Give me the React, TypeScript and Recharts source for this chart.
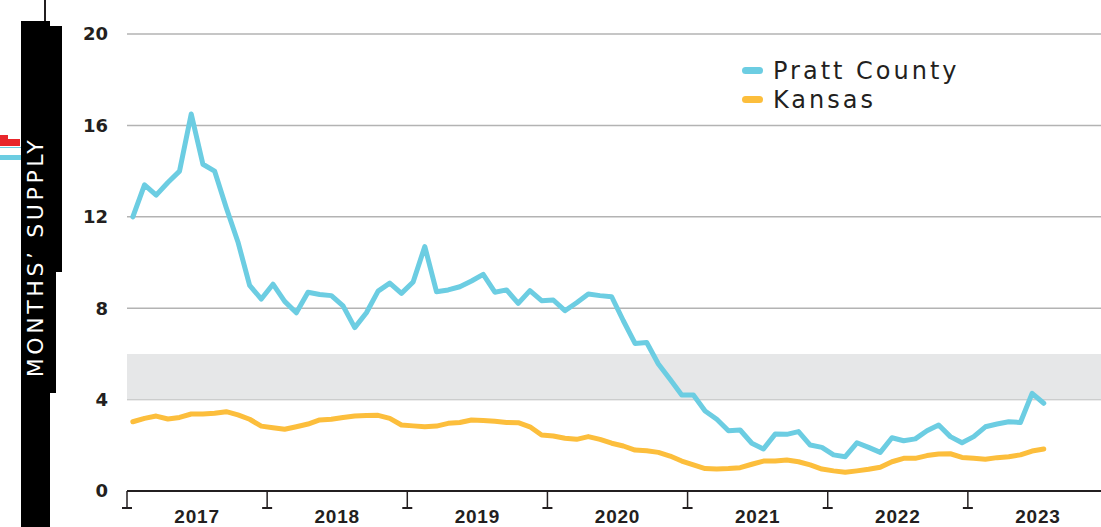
import { LineChart, Line, XAxis, YAxis, CartesianGrid, ReferenceArea, Legend } from "recharts";

// months' supply, monthly, Jan 2017 - Jul 2023
const years = ["2017", "2018", "2019", "2020", "2021", "2022", "2023"];

const prattCounty = [
  12.0, 13.4, 12.95, 13.5, 14.0, 16.5, 14.3, 14.0, 12.4, 10.9, 9.0, 8.4,
  9.05, 8.3, 7.8, 8.7, 8.6, 8.55, 8.1, 7.15, 7.8, 8.75, 9.1, 8.65,
  9.15, 10.7, 8.72, 8.8, 8.94, 9.19, 9.48, 8.7, 8.8, 8.21, 8.77, 8.33,
  8.36, 7.89, 8.24, 8.62, 8.55, 8.5, 7.45, 6.46, 6.5, 5.56, 4.89, 4.2,
  4.2, 3.5, 3.14, 2.64, 2.67, 2.09, 1.84, 2.49, 2.48, 2.6, 2.01, 1.91,
  1.58, 1.5, 2.11, 1.91, 1.69, 2.33, 2.2, 2.28, 2.64, 2.89, 2.38, 2.11,
  2.38, 2.81, 2.93, 3.03, 3.0, 4.27, 3.84,
];

const kansas = [
  3.03, 3.18, 3.28, 3.15, 3.22, 3.37, 3.37, 3.4, 3.47, 3.33, 3.14, 2.84,
  2.77, 2.7, 2.81, 2.93, 3.11, 3.14, 3.22, 3.28, 3.3, 3.31, 3.18, 2.89,
  2.85, 2.81, 2.84, 2.96, 3.0, 3.11, 3.09, 3.05, 3.0, 2.99, 2.81, 2.45,
  2.41, 2.31, 2.26, 2.38, 2.26, 2.09, 1.97, 1.79, 1.76, 1.69, 1.53, 1.31,
  1.14, 0.98, 0.96, 0.98, 1.02, 1.17, 1.31, 1.31, 1.36, 1.28, 1.14, 0.96,
  0.88, 0.82, 0.88, 0.95, 1.04, 1.28, 1.43, 1.43, 1.55, 1.62, 1.63, 1.47,
  1.43, 1.39, 1.46, 1.5, 1.58, 1.75, 1.84,
];

const yTicks = [0, 4, 8, 12, 16, 20];
// year boundaries every 12 months, labels in the middle of each year
const xTicks = [0, 6, 12, 18, 24, 30, 36, 42, 48, 54, 60, 66, 72, 78];

const BLUE = "#6ccde2";
const YELLOW = "#fcbe3c";
const INK = "#231f20";

// points sit at the middle of each month
const data = prattCounty.map((v, i) => ({ m: i + 0.5, pratt: v, kansas: kansas[i] }));

function YearTick(props: any) {
  const { x, y, payload } = props;
  const v = payload.value;
  if (v % 12 === 0) {
    return (
      <g>
        <line x1={x} y1={y} x2={x} y2={y + 17} stroke={INK} strokeWidth={1.5} />
        <line x1={x - 5} y1={y + 17} x2={x + 5} y2={y + 17} stroke={INK} strokeWidth={2} />
      </g>
    );
  }
  return (
    <text
      x={x}
      y={y + 31.5}
      textAnchor="middle"
      fill={INK}
      style={{ fontFamily: "Liberation Sans", fontWeight: 700, fontSize: 19, letterSpacing: 0.8 }}
    >
      {years[(v - 6) / 12]}
    </text>
  );
}

function LegendBox() {
  const items = [
    { label: "Pratt County", color: BLUE },
    { label: "Kansas", color: YELLOW },
  ];
  return (
    <div>
      {items.map((it) => (
        <div key={it.label} style={{ display: "flex", alignItems: "center", height: 29 }}>
          <span
            style={{ width: 21, height: 7, borderRadius: 4, background: it.color, marginRight: 10, display: "inline-block" }}
          />
          <span style={{ fontSize: 24, color: INK, letterSpacing: 3, fontFamily: "DejaVu Sans" }}>{it.label}</span>
        </div>
      ))}
    </div>
  );
}

export default function App() {
  return (
    <div
      style={{
        position: "absolute",
        left: 0,
        top: 0,
        width: 1101,
        height: 527,
        overflow: "hidden",
        background: "#fff",
        fontFamily: "DejaVu Sans",
      }}
    >
      <LineChart width={1101} height={527} data={data} margin={{ top: 34, right: 0, bottom: 0, left: 0 }}>
        <ReferenceArea y1={4} y2={6} fill="#e6e7e8" fillOpacity={1} stroke="none" />
        <CartesianGrid vertical={false} stroke="#b3b3b3" strokeWidth={1.5} />
        <XAxis
          dataKey="m"
          type="number"
          domain={[0, 83.4]}
          ticks={xTicks}
          interval={0}
          height={36}
          tickSize={0}
          tickMargin={0}
          tickLine={false}
          axisLine={{ stroke: INK, strokeWidth: 2 }}
          tick={<YearTick />}
        />
        <YAxis
          domain={[0, 20]}
          ticks={yTicks}
          width={127}
          tickSize={0}
          tickMargin={19}
          axisLine={false}
          tickLine={false}
          tick={{ fill: INK, fontSize: 18, fontWeight: 700, fontFamily: "DejaVu Sans" }}
        />
        <Legend
          layout="vertical"
          align="center"
          verticalAlign="middle"
          content={<LegendBox />}
          wrapperStyle={{ left: 742, top: 56, width: "auto", bottom: "auto" }}
        />
        <Line
          type="linear"
          dataKey="kansas"
          stroke={YELLOW}
          strokeWidth={5}
          dot={false}
          strokeLinejoin="round"
          strokeLinecap="round"
          isAnimationActive={false}
        />
        <Line
          type="linear"
          dataKey="pratt"
          stroke={BLUE}
          strokeWidth={5}
          dot={false}
          strokeLinejoin="round"
          strokeLinecap="round"
          isAnimationActive={false}
        />
      </LineChart>

      {/* cropped-off side panel from the original layout */}
      <div style={{ position: "absolute", left: 44, top: 0, width: 1.5, height: 21, background: INK }} />
      <div style={{ position: "absolute", left: 21, top: 21, width: 29, height: 506, background: "#000" }} />
      <div style={{ position: "absolute", left: 50, top: 26, width: 12, height: 246, background: "#000" }} />
      <div style={{ position: "absolute", left: 50, top: 272, width: 6, height: 121, background: "#000" }} />
      <div style={{ position: "absolute", left: 0, top: 135, width: 8, height: 5, background: "#e8262b" }} />
      <div style={{ position: "absolute", left: 0, top: 139, width: 20, height: 7, background: "#e8262b" }} />
      <div style={{ position: "absolute", left: 0, top: 147, width: 21, height: 1, background: BLUE }} />
      <div style={{ position: "absolute", left: 0, top: 155, width: 21, height: 5, background: BLUE }} />
      <div
        style={{
          position: "absolute",
          left: 35,
          top: 257,
          transform: "translate(-50%, -50%) rotate(-90deg)",
          color: "#fff",
          fontSize: 22,
          letterSpacing: 3.6,
          whiteSpace: "nowrap",
          fontFamily: "DejaVu Sans",
        }}
      >
        MONTHS’ SUPPLY
      </div>
    </div>
  );
}
